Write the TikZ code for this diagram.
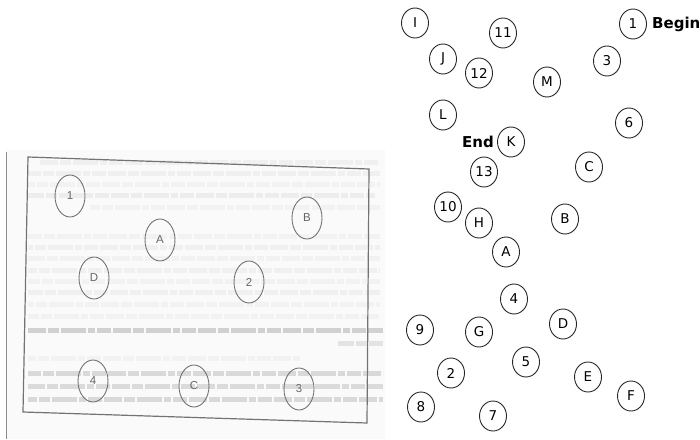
\documentclass[tikz,border=0pt]{standalone}
\usepackage{fontspec}
\setmainfont{DejaVu Sans}
\newfontfamily\scanfont{Liberation Sans}
\usetikzlibrary{shapes.geometric}
\begin{document}
\begin{tikzpicture}[x=1pt,y=-1pt,
  ring/.style={draw=black!85, line width=0.9pt, ellipse, minimum width=27pt,
    minimum height=30pt, inner sep=0pt, font=\fontsize{13.5}{13.5}\selectfont},
  oval/.style={draw=black!55, line width=0.9pt, ellipse, minimum width=30pt,
    minimum height=42pt, inner sep=0pt, text=black!60,
    font=\scanfont\fontsize{11.5}{11.5}\selectfont},
  tag/.style={font=\bfseries\fontsize{15}{15}\selectfont, inner sep=0pt},
  bleed/.style={line width=5pt,
    dash pattern=on 18pt off 2pt on 11pt off 2pt on 25pt off 2pt on 7pt off 2pt on 14pt off 2pt}]
\useasboundingbox (0,0) rectangle (700,439);
% scanned page
\fill[black!2] (6,150) rectangle (385,439);
\foreach \yy/\xa/\xb/\sh/\ph in {
  162/40/380/6/0, 173/28/380/6/5, 184/28/380/5/11, 195/28/375/7/2,
  207/90/380/5/8, 236/28/380/5/4, 247/28/380/6/13, 258/28/380/5/1,
  270/28/380/6/9, 281/28/380/5/6, 292/28/380/6/3, 304/28/380/5/12,
  316/28/380/5/7, 330/28/383/18/0, 343/338/383/11/2, 358/28/300/5/10,
  373/28/383/15/5, 386/28/383/14/1, 399/28/383/15/9}
  \draw[bleed, draw=black!\sh, dash phase=\ph pt] (\xa,\yy) -- (\xb,\yy);
\draw[black!45, line width=1pt] (6,152) -- (6,439);
\draw[black!55, line width=1.2pt] (28,157) -- (369,169) -- (367,423) -- (23,412) -- cycle;
\node[oval] (s1) at (70,196) {1};
\node[oval] (sA) at (160,240) {A};
\node[oval] (sB) at (307,218) {B};
\node[oval] (sD) at (94,278) {D};
\node[oval] (s2) at (249,282) {2};
\node[oval] (s4) at (93,381) {4};
\node[oval] (sC) at (194,386) {C};
\node[oval] (s3) at (299,389) {3};
% right diagram
\node[ring] (nI) at (415,23) {I};
\node[ring] (n11) at (503,33) {11};
\node[ring] (n1) at (633,24) {1};
\node[tag, anchor=west] (tBegin) at (652,24) {Begin};
\node[ring] (n3) at (607,61) {3};
\node[ring] (nJ) at (443,59) {J};
\node[ring] (n12) at (479,73) {12};
\node[ring] (nM) at (547,82) {M};
\node[ring] (nL) at (443,115) {L};
\node[ring] (n6) at (629,123) {6};
\node[ring] (nK) at (511,142) {K};
\node[tag, anchor=east] (tEnd) at (494,142) {End};
\node[ring] (n13) at (484,172) {13};
\node[ring] (nC) at (589,167) {C};
\node[ring] (n10) at (448,207) {10};
\node[ring] (nH) at (479,223) {H};
\node[ring] (nB) at (565,219) {B};
\node[ring] (nA) at (506,252) {A};
\node[ring] (n4) at (514,299) {4};
\node[ring] (n9) at (420,330) {9};
\node[ring] (nG) at (479,332) {G};
\node[ring] (nD) at (563,324) {D};
\node[ring] (n2) at (451,373) {2};
\node[ring] (n5) at (526,362) {5};
\node[ring] (nE) at (588,377) {E};
\node[ring] (nF) at (631,396) {F};
\node[ring] (n8) at (421,407) {8};
\node[ring] (n7) at (493,416) {7};
\end{tikzpicture}
\end{document}
